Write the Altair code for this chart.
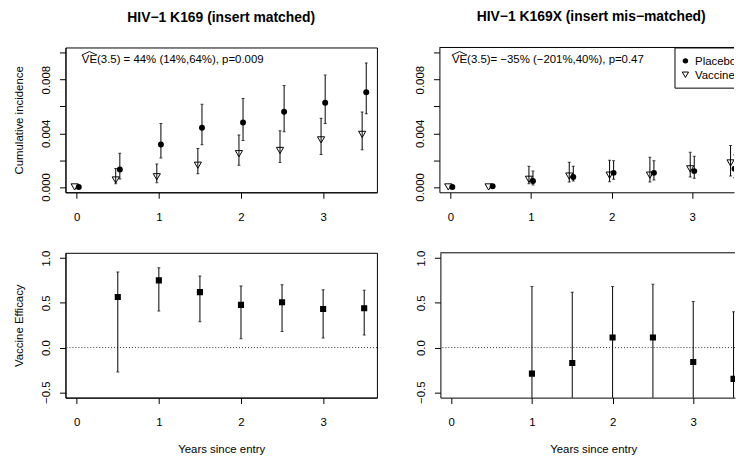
import altair as alt
import pandas as pd

FONT = "Liberation Sans"

# ---------------- data ----------------
t = [0, 0.5, 1, 1.5, 2, 2.5, 3, 3.5]
groups = ["Placebo", "Vaccine"]

# HIV-1 K169 (insert matched): cumulative incidence, 95% CI
plc_m = [0.0, 0.00130, 0.00316, 0.00441, 0.00480, 0.00560, 0.00628, 0.00706]
plc_m_lo = [0.0, 0.00060, 0.00216, 0.00314, 0.00346, 0.00412, 0.00473, 0.00545]
plc_m_hi = [0.0, 0.00252, 0.00473, 0.00616, 0.00660, 0.00756, 0.00834, 0.00925]
vac_m = [0.0, 0.00052, 0.00076, 0.00162, 0.00248, 0.00272, 0.00351, 0.00392]
vac_m_lo = [0.0, 0.00024, 0.00032, 0.00098, 0.00162, 0.00182, 0.00241, 0.00277]
vac_m_hi = [0.0, 0.00138, 0.00171, 0.00287, 0.00388, 0.00419, 0.00513, 0.00559]

# HIV-1 K169X (insert mis-matched)
plc_x = [0.0, 0.00005, 0.00044, 0.00074, 0.00105, 0.00105, 0.00118, 0.00135]
plc_x_lo = [0.0, 0.00005, 0.00015, 0.00044, 0.00057, 0.00052, 0.00064, 0.00068]
plc_x_hi = [0.0, 0.00005, 0.00118, 0.00155, 0.00196, 0.00196, 0.00228, 0.00240]
vac_x = [0.0, 0.0, 0.00057, 0.00081, 0.00088, 0.00088, 0.00135, 0.00179]
vac_x_lo = [0.0, 0.0, 0.00024, 0.00037, 0.00039, 0.00037, 0.00074, 0.00081]
vac_x_hi = [0.0, 0.0, 0.00155, 0.00184, 0.00199, 0.00221, 0.00258, 0.00309]

# Vaccine efficacy
t_ve_m = [0.5, 1, 1.5, 2, 2.5, 3, 3.5]
ve_m = [0.565, 0.751, 0.620, 0.478, 0.507, 0.431, 0.44]
ve_m_lo = [-0.274, 0.408, 0.288, 0.099, 0.179, 0.106, 0.14]
ve_m_hi = [0.846, 0.893, 0.800, 0.690, 0.704, 0.646, 0.64]

t_ve_x = [1, 1.5, 2, 2.5, 3, 3.5]
ve_x = [-0.292, -0.172, 0.113, 0.113, -0.161, -0.35]
ve_x_lo = [-2.4, -2.1, -1.5, -1.5, -1.6, -2.01]
ve_x_hi = [0.682, 0.620, 0.682, 0.708, 0.515, 0.40]

titles = ["HIV\u22121 K169 (insert matched)", "HIV\u22121 K169X (insert mis\u2212matched)"]
ann = ["VE(3.5) = 44% (14%,64%), p=0.009", "VE(3.5)= \u221235% (\u2212201%,40%), p=0.47"]
y_titles = ["Cumulative incidence", "Vaccine Efficacy"]
x_title = "Years since entry"

# ---------------- geometry ----------------
W_L, W_R, H = 314, 297, 146
XDOM_L = [-0.137, 3.655]
XDOM_R = [-0.135, 3.518]
YDOM_C = [-0.0004, 0.0104]
YDOM_V = [-0.56, 1.06]
HAT = "M -1 0.23 L 0 -0.23 L 1 0.23"


def cum_df(p, plo, phi, v, vlo, vhi):
    rows = []
    for i, tt in enumerate(t):
        rows.append(dict(t=tt, grp=groups[0], est=p[i], lo=plo[i], hi=phi[i]))
        rows.append(dict(t=tt, grp=groups[1], est=v[i], lo=vlo[i], hi=vhi[i]))
    return pd.DataFrame(rows)


def x_axis(title=None, title_x=None):
    kw = dict(values=[0, 1, 2, 3], format="d", labelAngle=0, labelPadding=13,
              title=title, titlePadding=16)
    if title_x is not None:
        kw["titleX"] = title_x
    return alt.Axis(**kw)


def y_axis_cum(title):
    return alt.Axis(values=[0, 0.002, 0.004, 0.006, 0.008, 0.010],
                    labelExpr="round(datum.value*1000) % 4 == 0 ? format(datum.value, '.3f') : ''",
                    labelAngle=270, labelAlign="center", labelBaseline="alphabetic",
                    labelPadding=10, title=title, titlePadding=16)


def y_axis_ve(title):
    return alt.Axis(values=[-0.5, 0, 0.5, 1.0], format=".1f",
                    labelAngle=270, labelAlign="center", labelBaseline="alphabetic",
                    labelPadding=10, title=title, titlePadding=16)


def cum_panel(k, df, width, xdom, ann_x, hat_x, ytitle, right):
    xs = alt.Scale(domain=xdom, nice=False, zero=False)
    ys = alt.Scale(domain=YDOM_C, nice=False, zero=False)
    xa = x_axis()
    ya = y_axis_cum(ytitle)
    base = alt.Chart(df).transform_calculate(
        xp="datum.t + (datum.grp == 'Placebo' ? 0.025 : -0.025)")
    X = alt.X("xp:Q", scale=xs, axis=xa)
    bars_src = base.transform_filter("datum.hi > datum.lo")
    bars = bars_src.mark_rule(color="black", strokeWidth=1, clip=True).encode(
        x=X, y=alt.Y("lo:Q", scale=ys, axis=ya), y2="hi:Q")
    cap_lo = bars_src.mark_tick(orient="horizontal", size=3, thickness=1, color="black", clip=True).encode(
        x=X, y=alt.Y("lo:Q", scale=ys, axis=ya))
    cap_hi = bars_src.mark_tick(orient="horizontal", size=3, thickness=1, color="black", clip=True).encode(
        x=X, y=alt.Y("hi:Q", scale=ys, axis=ya))
    plc = base.transform_filter(f"datum.grp == '{groups[0]}'").mark_circle(
        size=36, color="black", opacity=1, clip=True).encode(x=X, y=alt.Y("est:Q", scale=ys, axis=ya))
    vac = base.transform_filter(f"datum.grp == '{groups[1]}'").mark_point(
        shape="triangle-down", size=52, filled=False, color="black", strokeWidth=1, opacity=1,
        clip=True).encode(x=X, y=alt.Y("est:Q", scale=ys, axis=ya))
    adf = pd.DataFrame({"label": [ann[k]]})
    txt = alt.Chart(adf).mark_text(align="left", baseline="alphabetic", font=FONT, fontSize=11.5,
                                   color="black").encode(
        x=alt.value(ann_x), y=alt.value(15.5), text="label:N")
    hat = alt.Chart(adf).mark_point(shape=HAT, size=240, filled=False, color="black",
                                    strokeWidth=0.9, opacity=1).encode(
        x=alt.value(hat_x), y=alt.value(5.9))
    layers = [bars, cap_lo, cap_hi, plc, vac, txt, hat]
    props = dict(width=width, height=H,
                 title=alt.TitleParams(titles[k], frame="group", anchor="middle",
                                       dx=(4.5 if right else 0), offset=23))
    if right:
        top = alt.Chart(adf).mark_rule(color="black", strokeWidth=1).encode(
            x=alt.value(0), x2=alt.value(width), y=alt.value(0))
        ldf = pd.DataFrame({"label": groups})
        box = alt.Chart(adf).mark_rect(fill="white", stroke="black", strokeWidth=1, clip=True).encode(
            x=alt.value(237.5), x2=alt.value(width + 30), y=alt.value(0.5), y2=alt.value(41))
        sym1 = alt.Chart(adf).mark_circle(size=30, color="black", opacity=1, clip=True).encode(
            x=alt.value(248), y=alt.value(13.5))
        sym2 = alt.Chart(adf).mark_point(shape="triangle-down", size=40, filled=False, color="black",
                                         strokeWidth=1, opacity=1, clip=True).encode(
            x=alt.value(248), y=alt.value(27.5))
        lt1 = alt.Chart(ldf).transform_filter(f"datum.label == '{groups[0]}'").mark_text(
            align="left", baseline="alphabetic", font=FONT, fontSize=11.5, color="black", clip=True).encode(
            x=alt.value(257.7), y=alt.value(17.5), text="label:N")
        lt2 = alt.Chart(ldf).transform_filter(f"datum.label == '{groups[1]}'").mark_text(
            align="left", baseline="alphabetic", font=FONT, fontSize=11.5, color="black", clip=True).encode(
            x=alt.value(257.7), y=alt.value(31.5), text="label:N")
        layers += [top, box, sym1, sym2, lt1, lt2]
        props["view"] = alt.ViewBackground(stroke=None)
    return alt.layer(*layers).properties(**props)


def ve_panel(tv, ve, lo, hi, width, xdom, ytitle, right, title_x):
    df = pd.DataFrame({"t": tv, "ve": ve, "lo": lo, "hi": hi})
    xs = alt.Scale(domain=xdom, nice=False, zero=False)
    ys = alt.Scale(domain=YDOM_V, nice=False, zero=False)
    xa = x_axis(x_title, title_x)
    ya = y_axis_ve(ytitle)
    X = alt.X("t:Q", scale=xs, axis=xa)
    base = alt.Chart(df)
    zero = alt.Chart(pd.DataFrame({"z": [0.0]})).mark_rule(
        color="#333333", strokeWidth=1, strokeDash=[1, 2]).encode(
        y=alt.Y("z:Q", scale=ys, axis=ya))
    bars = base.mark_rule(color="black", strokeWidth=1, clip=True).encode(
        x=X, y=alt.Y("lo:Q", scale=ys, axis=ya), y2="hi:Q")
    cap_lo = base.mark_tick(orient="horizontal", size=3, thickness=1, color="black", clip=True).encode(
        x=X, y=alt.Y("lo:Q", scale=ys, axis=ya))
    cap_hi = base.mark_tick(orient="horizontal", size=3, thickness=1, color="black", clip=True).encode(
        x=X, y=alt.Y("hi:Q", scale=ys, axis=ya))
    pts = base.mark_square(size=38, color="black", opacity=1, clip=True).encode(
        x=X, y=alt.Y("ve:Q", scale=ys, axis=ya))
    layers = [zero, bars, cap_lo, cap_hi, pts]
    props = dict(width=width, height=H)
    if right:
        top = alt.Chart(pd.DataFrame({"a": [0]})).mark_rule(color="black", strokeWidth=1).encode(
            x=alt.value(0), x2=alt.value(width), y=alt.value(0))
        layers.append(top)
        props["view"] = alt.ViewBackground(stroke=None)
    return alt.layer(*layers).properties(**props)


tl = cum_panel(0, cum_df(plc_m, plc_m_lo, plc_m_hi, vac_m, vac_m_lo, vac_m_hi),
               W_L, XDOM_L, 16.5, 24.2, y_titles[0], False)
tr = cum_panel(1, cum_df(plc_x, plc_x_lo, plc_x_hi, vac_x, vac_x_lo, vac_x_hi),
               W_R, XDOM_R, 12.6, 20.3, None, True)
bl = ve_panel(t_ve_m, ve_m, ve_m_lo, ve_m_hi, W_L, XDOM_L, y_titles[1], False, None)
br = ve_panel(t_ve_x, ve_x, ve_x_lo, ve_x_hi, W_R, XDOM_R, None, True, 154)

chart = alt.vconcat(
    alt.hconcat(tl, tr, spacing=37),
    alt.hconcat(bl, br, spacing=37),
    spacing=26,
).properties(
    padding={"left": 13, "top": 8, "right": 0, "bottom": 0},
    background="white",
).configure_axis(
    labelFont=FONT, titleFont=FONT, labelFontSize=11.5, titleFontSize=11.5,
    titleFontWeight="normal", labelColor="black", titleColor="black",
    domainColor="black", tickColor="black", tickSize=6, grid=False,
    domainWidth=1, tickWidth=1,
).configure_view(
    stroke="black", strokeWidth=1,
).configure_title(
    font=FONT, fontSize=14, fontWeight="bold", color="black",
)

chart.save("out.html", embed_options={"renderer": "svg", "actions": False})
